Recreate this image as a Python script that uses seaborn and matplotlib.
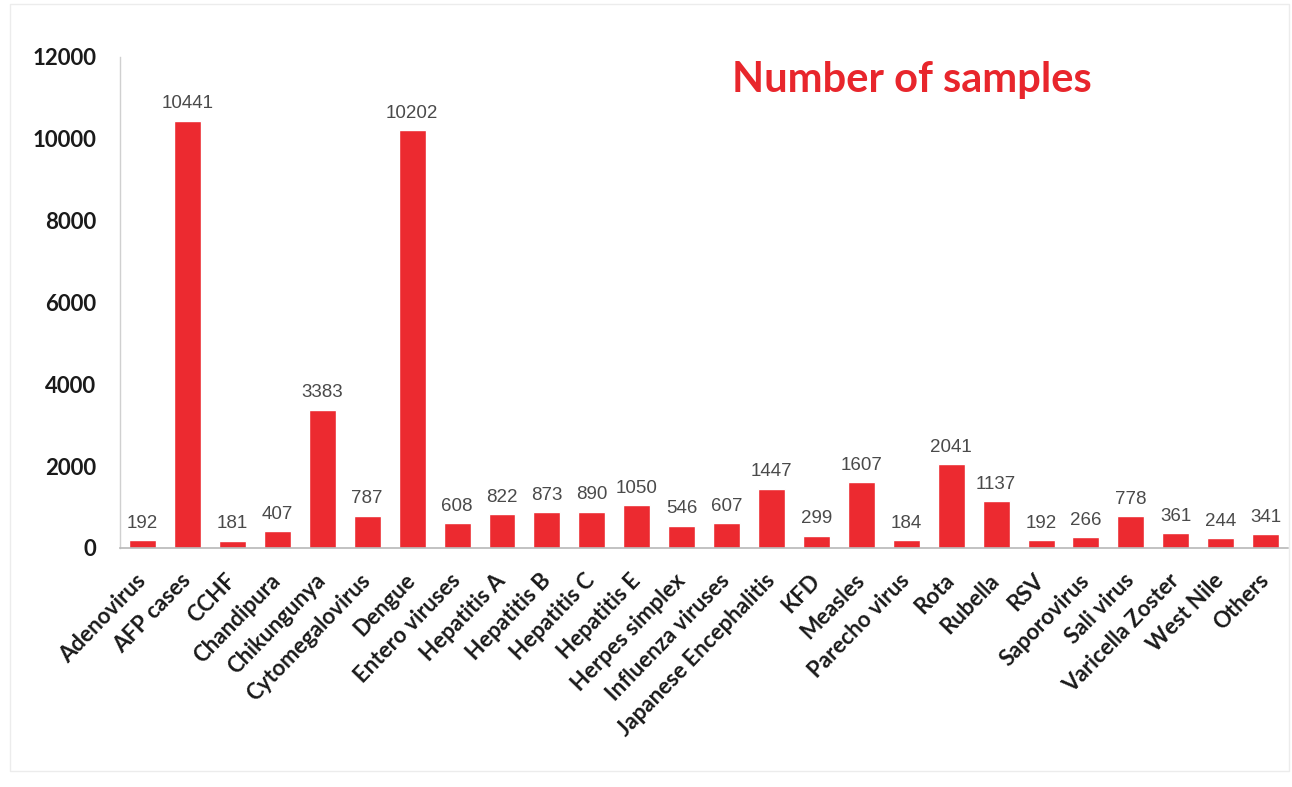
import matplotlib
matplotlib.use("Agg")
import matplotlib.pyplot as plt
import seaborn as sns
import pandas as pd

viruses = [
    "Adenovirus", "AFP cases", "CCHF", "Chandipura", "Chikungunya",
    "Cytomegalovirus", "Dengue", "Entero viruses", "Hepatitis A", "Hepatitis B",
    "Hepatitis C", "Hepatitis E", "Herpes simplex", "Influenza viruses",
    "Japanese Encephalitis", "KFD", "Measles", "Parecho virus", "Rota",
    "Rubella", "RSV", "Saporovirus", "Sali virus", "Varicella Zoster",
    "West Nile", "Others",
]
samples = [
    192, 10441, 181, 407, 3383, 787, 10202, 608, 822, 873,
    890, 1050, 546, 607, 1447, 299, 1607, 184, 2041, 1137,
    192, 266, 778, 361, 244, 341,
]
y_ticks = [0, 2000, 4000, 6000, 8000, 10000, 12000]

df = pd.DataFrame({"virus": viruses, "samples": samples})

sns.set_theme(style="white")
plt.rcParams["font.family"] = ["Lato", "DejaVu Sans"]

fig = plt.figure(figsize=(12.92, 7.87), dpi=100)
ax = fig.add_axes([0.093, 0.3037, 0.904, 0.624])

bar_color = "#ec2a30"
sns.barplot(data=df, x="virus", y="samples", color=bar_color,
            width=0.6, saturation=1, ax=ax)

for cont in ax.containers:
    ax.bar_label(cont, labels=[str(v) for v in samples], padding=6,
                 fontsize=13.5, color="#4a4a4a",
                 family="Liberation Sans")

ax.set_xlim(-0.5, len(viruses) - 0.5)
ax.set_ylim(0, 12000)
ax.set_yticks(y_ticks)
ax.set_yticklabels([str(t) for t in y_ticks], fontsize=16,
                   fontweight="bold", color="#1a1a1a")
ax.tick_params(axis="y", length=0, pad=17)
ax.tick_params(axis="x", length=0, pad=21)
plt.setp(ax.get_xticklabels(), rotation=46, ha="right", va="center",
         rotation_mode="anchor", fontsize=16, fontweight="bold",
         color="#1a1a1a")
ax.set_xlabel("")
ax.set_ylabel("")

for side in ["top", "right"]:
    ax.spines[side].set_visible(False)
ax.spines["left"].set_color("#d0d0d0")
ax.spines["bottom"].set_color("#b8b8b8")
ax.spines["left"].set_linewidth(1.0)
ax.spines["bottom"].set_linewidth(1.2)

ax.text(0.678, 0.953, "Number of samples", transform=ax.transAxes,
        ha="center", va="center", fontsize=30, fontweight="bold",
        color="#e8262c")

# faint frame around the figure
frame = plt.Rectangle((0.008, 0.02), 0.99, 0.975, transform=fig.transFigure,
                      fill=False, edgecolor="#ececec", linewidth=1.0)
fig.patches.append(frame)

fig.savefig("out.png", dpi=100, facecolor="white")
